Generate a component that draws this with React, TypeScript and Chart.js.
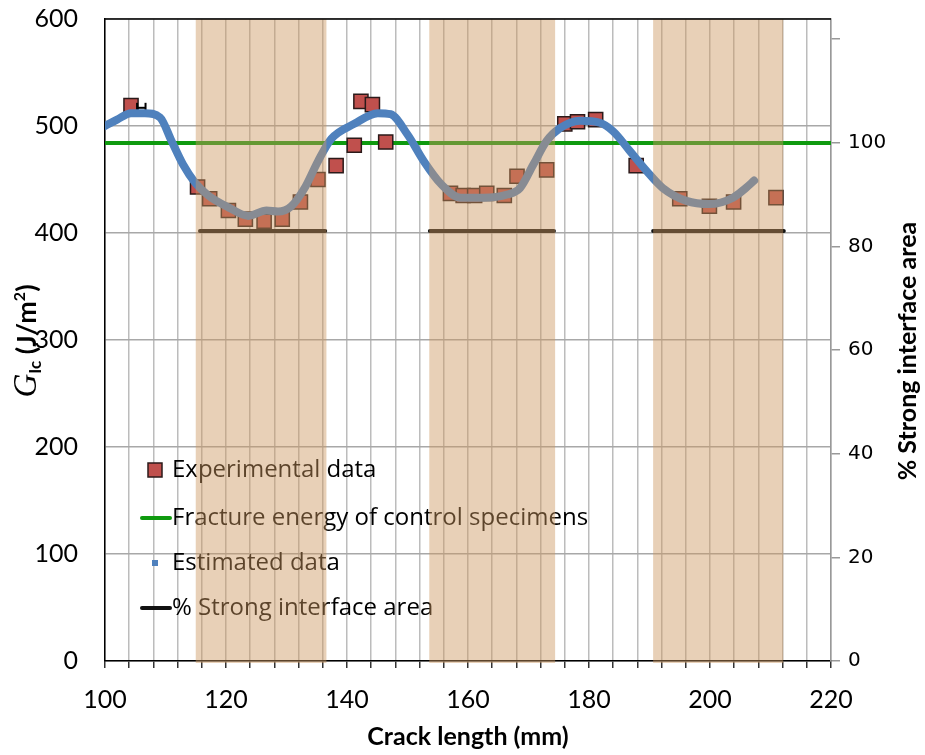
import React, { useEffect, useRef } from 'react';
import { Chart, registerables } from 'chart.js';

Chart.register(...registerables);

// ---------- data ----------
const expX = [104.3, 115.3, 117.3, 120.4, 123.2, 126.3, 129.3, 132.3, 135.2, 138.2, 141.2, 142.3, 144.2, 146.4,
  157.1, 159.2, 161.1, 163.1, 166.0, 168.1, 173.0, 176.0, 178.1, 181.1, 187.8, 195.0, 199.9, 203.9, 210.9];
const expY = [519, 443, 432, 421, 413, 411, 413, 429, 450, 463, 482, 523, 520, 485,
  437, 435, 435, 437, 435, 453, 459, 502, 504, 506, 463, 432, 425, 429, 433];

const estX = [100.0, 102.0, 104.3, 106.6, 109.1, 111.0, 112.9, 114.9, 117.1, 120.4, 123.7, 126.7, 128.6, 130.8,
  133.0, 135.2, 137.4, 141.2, 145.1, 147.2, 150.0, 152.7, 155.5, 158.8, 162.6, 166.5, 168.6, 170.8, 173.0,
  175.2, 178.5, 181.8, 184.0, 186.7, 189.5, 192.2, 196.1, 199.9, 203.8, 205.9, 207.3];
const estY = [500, 506, 512, 512, 508, 486, 464, 447, 435, 424, 416, 421, 420, 425,
  442, 467, 488, 502, 512, 511, 492, 467, 446, 433, 433, 436, 442, 464, 486,
  498, 505, 503, 495, 477, 458, 442, 430, 427, 433, 442, 449];

const errX = [105.3, 106.7];
const errY = [517, 517];

const controlX = [100, 220];
const controlEnergy = 484;

const strongStart = [115.7, 153.7, 190.6];
const strongEnd = [136.4, 174.2, 212.2];
const strongPct = 83;

const bandStart = [115.0, 153.6, 190.6];
const bandEnd = [136.6, 174.4, 212.1];

const legendLabels = ['Experimental data', 'Fracture energy of control specimens', 'Estimated data', '% Strong interface area'];
const xTitle = 'Crack length (mm)';
const y2Title = '% Strong interface area';
const rightTickValues = [0, 20, 40, 60, 80, 100, 120];

const RED = '#c0504d';
const GREEN = '#0f9a0f';
const BLUE = '#4f81bd';
const BLACK = '#111111';
const FONT = 'Lato, "Open Sans", sans-serif';
const LEGEND_FONT = '"Open Sans", Lato, sans-serif';

const strongData: { x: number; y: number | null }[] = [];
strongStart.forEach((s, i) => {
  strongData.push({ x: s, y: strongPct });
  strongData.push({ x: strongEnd[i], y: strongPct });
  strongData.push({ x: strongEnd[i] + 0.01, y: null });
});

const overlayPlugin = {
  id: 'overlay',
  afterDatasetsDraw(chart: any) {
    const { ctx, chartArea, scales } = chart;
    ctx.save();
    // legend
    const lx = 172;
    const ly = [470, 518, 563, 608];
    ctx.font = `24px ${LEGEND_FONT}`;
    ctx.fillStyle = '#000';
    ctx.textBaseline = 'middle';
    ctx.textAlign = 'left';
    legendLabels.forEach((t, i) => ctx.fillText(t, lx, ly[i]));
    // markers
    ctx.fillStyle = RED;
    ctx.strokeStyle = '#2b1a1a';
    ctx.lineWidth = 1.5;
    ctx.fillRect(148, ly[0] - 7, 14, 14);
    ctx.strokeRect(148, ly[0] - 7, 14, 14);
    ctx.lineCap = 'round';
    ctx.lineWidth = 4;
    ctx.strokeStyle = GREEN;
    ctx.beginPath(); ctx.moveTo(142, ly[1]); ctx.lineTo(170, ly[1]); ctx.stroke();
    ctx.fillStyle = BLUE;
    ctx.fillRect(152, ly[2] - 3, 6, 6);
    ctx.strokeStyle = BLACK;
    ctx.beginPath(); ctx.moveTo(142, ly[3]); ctx.lineTo(170, ly[3]); ctx.stroke();

    // translucent bands over everything in the plot
    ctx.fillStyle = 'rgba(205,150,95,0.45)';
    bandStart.forEach((s, i) => {
      const x0 = scales.x.getPixelForValue(s);
      const x1 = scales.x.getPixelForValue(bandEnd[i]);
      ctx.fillRect(x0, chartArea.top, x1 - x0, chartArea.bottom - chartArea.top + 2);
    });

    // top border
    ctx.strokeStyle = '#000';
    ctx.lineWidth = 1.5;
    ctx.lineCap = 'butt';
    ctx.beginPath();
    ctx.moveTo(chartArea.left, chartArea.top);
    ctx.lineTo(chartArea.right, chartArea.top);
    ctx.stroke();
    ctx.restore();
  },
  afterDraw(chart: any) {
    const { ctx, chartArea } = chart;
    ctx.save();
    ctx.fillStyle = '#000';
    // x title
    ctx.font = `bold 25px ${FONT}`;
    ctx.textAlign = 'center';
    ctx.textBaseline = 'middle';
    ctx.fillText(xTitle, (chartArea.left + chartArea.right) / 2, 737);
    // right title
    ctx.save();
    ctx.translate(908, 351);
    ctx.rotate(-Math.PI / 2);
    ctx.font = `bold 25px ${FONT}`;
    ctx.fillText(y2Title, 0, 0);
    ctx.restore();
    // left title
    ctx.save();
    ctx.translate(26, 341);
    ctx.rotate(-Math.PI / 2);
    ctx.textAlign = 'left';
    ctx.textBaseline = 'alphabetic';
    const pieces = [
      { t: 'G', f: 'italic 33px "Liberation Serif", serif', dy: 0 },
      { t: 'Ic', f: `bold 17px ${FONT}`, dy: 5 },
      { t: ' (J/m', f: `bold 27px ${FONT}`, dy: 0 },
      { t: '2', f: `bold 16px ${FONT}`, dy: -11 },
      { t: ')', f: `bold 27px ${FONT}`, dy: 0 },
    ];
    let total = 0;
    pieces.forEach(p => { ctx.font = p.f; total += ctx.measureText(p.t).width; });
    let x = -total / 2;
    pieces.forEach(p => {
      ctx.font = p.f;
      ctx.fillText(p.t, x, 10 + p.dy);
      x += ctx.measureText(p.t).width;
    });
    ctx.restore();
    ctx.restore();
  },
};

export default function App() {
  const ref = useRef<HTMLCanvasElement | null>(null);
  useEffect(() => {
    if (!ref.current) return;
    const chart = new Chart(ref.current, {
      type: 'line',
      data: {
        datasets: [
          {
            label: 'Estimated data',
            data: estX.map((x, i) => ({ x, y: estY[i] })),
            borderColor: BLUE,
            borderWidth: 8,
            pointRadius: 0,
            cubicInterpolationMode: 'monotone',
            borderCapStyle: 'round',
            borderJoinStyle: 'round',
            order: 0,
            yAxisID: 'y',
          },
          {
            label: 'err',
            data: errX.map((x, i) => ({ x, y: errY[i] })),
            borderColor: '#000',
            borderWidth: 2,
            pointStyle: 'line',
            rotation: 90,
            pointRadius: 5,
            pointBorderColor: '#000',
            pointBorderWidth: 2,
            order: 1,
            yAxisID: 'y',
          },
          {
            label: 'Experimental data',
            data: expX.map((x, i) => ({ x, y: expY[i] })),
            showLine: false,
            pointStyle: 'rect',
            pointRadius: 10,
            pointBackgroundColor: RED,
            pointBorderColor: '#2b1a1a',
            pointBorderWidth: 1.5,
            order: 2,
            yAxisID: 'y',
          },
          {
            label: 'Fracture energy of control specimens',
            data: controlX.map(x => ({ x, y: controlEnergy })),
            borderColor: GREEN,
            borderWidth: 4,
            pointRadius: 0,
            order: 3,
            yAxisID: 'y',
          },
          {
            label: '% Strong interface area',
            data: strongData,
            borderColor: BLACK,
            borderWidth: 4,
            borderCapStyle: 'round',
            pointRadius: 0,
            spanGaps: false,
            order: 4,
            yAxisID: 'y2',
          },
        ],
      } as any,
      options: {
        responsive: false,
        animation: false,
        devicePixelRatio: 1,
        layout: { padding: { top: 19, left: 0, right: 0, bottom: 0 } },
        plugins: { legend: { display: false }, tooltip: { enabled: false }, title: { display: false } },
        scales: {
          x: {
            type: 'linear',
            min: 100,
            max: 220,
            ticks: {
              stepSize: 4,
              autoSkip: false,
              maxRotation: 0,
              callback: (v: any) => (Number(v) % 20 === 0 ? String(v) : ''),
              font: { family: FONT, size: 25 },
              color: '#000',
              padding: 17,
            },
            grid: { color: '#bcbcbc', lineWidth: 1.5, tickLength: 7, tickColor: '#333' },
            border: { color: '#000', width: 1.5 },
            afterFit: (s: any) => { s.height = 94; },
          },
          y: {
            position: 'left',
            min: 0,
            max: 600,
            ticks: {
              stepSize: 100,
              font: { family: FONT, size: 25, lineHeight: 1 },
              color: '#000',
              padding: 0,
            },
            grid: { color: '#a8a8a8', lineWidth: 1.5, drawTicks: true, tickLength: 27, tickColor: 'rgba(0,0,0,0)' },
            border: { color: '#000', width: 1.5 },
            afterFit: (s: any) => { s.width = 105; },
          },
          y2: {
            position: 'right',
            min: 0,
            max: 123.9,
            afterBuildTicks: (s: any) => { s.ticks = rightTickValues.map(v => ({ value: v })); },
            ticks: {
              callback: (v: any) => (Number(v) <= 100 ? String(v) : ''),
              font: { family: '"DejaVu Sans", sans-serif', size: 20, lineHeight: 1 },
              color: '#000',
              padding: 8,
            },
            grid: { drawOnChartArea: false, tickLength: 9, tickColor: '#999', lineWidth: 1.5 },
            border: { color: '#999', width: 1.5 },
            afterFit: (s: any) => { s.width = 94; },
          },
        },
      } as any,
      plugins: [overlayPlugin],
    });
    return () => chart.destroy();
  }, []);
  return (
    <div style={{ position: 'absolute', left: 0, top: 0, width: 925, height: 755, background: '#fff' }}>
      <canvas ref={ref} width={925} height={755} style={{ display: 'block' }} />
    </div>
  );
}
